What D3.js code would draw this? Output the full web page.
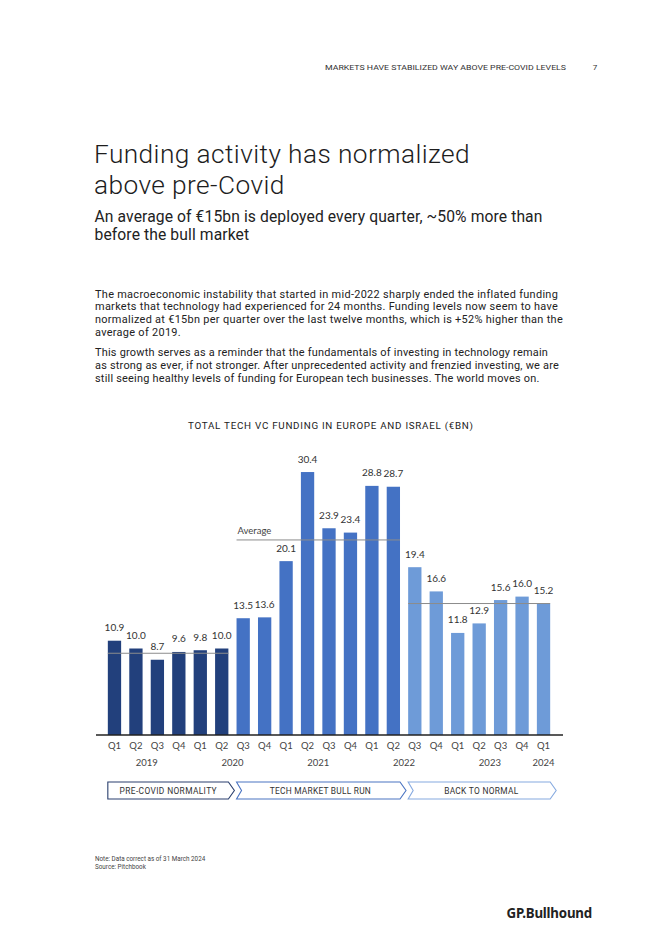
<!DOCTYPE html>
<html>
<head>
<meta charset="utf-8">
<script src="https://cdn.jsdelivr.net/npm/d3@7"></script>
<style>
  html, body { margin: 0; padding: 0; background: #fff; }
  svg { display: block; }
</style>
</head>
<body>
<svg id="page" width="662" height="936"></svg>
<script>
// ---------- DATA ----------
const quarters = ["Q1","Q2","Q3","Q4","Q1","Q2","Q3","Q4","Q1","Q2","Q3","Q4","Q1","Q2","Q3","Q4","Q1","Q2","Q3","Q4","Q1"];
const years    = [2019,2019,2019,2019,2020,2020,2020,2020,2021,2021,2021,2021,2022,2022,2022,2022,2023,2023,2023,2023,2024];
const funding  = [10.9,10.0,8.7,9.6,9.8,10.0,13.5,13.6,20.1,30.4,23.9,23.4,28.8,28.7,19.4,16.6,11.8,12.9,15.6,16.0,15.2];
const phaseOfBar = [0,0,0,0,0,0,1,1,1,1,1,1,1,1,2,2,2,2,2,2,2];
const phaseNames = ["PRE-COVID NORMALITY","TECH MARKET BULL RUN","BACK TO NORMAL"];
const phaseAverages = [9.45, 22.55, 15.2];
const yearLabels = ["2019","2020","2021","2022","2023","2024"];
const phaseColors = ["#22407c","#4472c4","#6e9bd8"];
const phaseStroke = ["#2a3f6e","#4a74c2","#86aae0"];

const headerText = "MARKETS HAVE STABILIZED WAY ABOVE PRE-COVID LEVELS";
const pageNumber = "7";
const titleLines = ["Funding activity has normalized","above pre-Covid"];
const subtitleLines = ["An average of €15bn is deployed every quarter, ~50% more than","before the bull market"];
const para1 = ["The macroeconomic instability that started in mid-2022 sharply ended the inflated funding",
  "markets that technology had experienced for 24 months. Funding levels now seem to have",
  "normalized at €15bn per quarter over the last twelve months, which is +52% higher than the",
  "average of 2019."];
const para2 = ["This growth serves as a reminder that the fundamentals of investing in technology remain",
  "as strong as ever, if not stronger. After unprecedented activity and frenzied investing, we are",
  "still seeing healthy levels of funding for European tech businesses. The world moves on."];
const chartTitle = "TOTAL TECH VC FUNDING IN EUROPE AND ISRAEL (€BN)";
const notes = ["Note: Data correct as of 31 March 2024","Source: Pitchbook"];

(function () {
// ---------- PAGE ----------
const svg = d3.select("#page");
const pageFont = "Roboto, 'Noto Sans', sans-serif";
const chartFont = "Lato, 'Open Sans', sans-serif";

svg.append("text").attr("x", 566).attr("y", 69.5).attr("text-anchor","end")
  .attr("font-family", pageFont).attr("font-size", 7.6).attr("fill","#333")
  .attr("textLength", 241).attr("lengthAdjust","spacingAndGlyphs").text(headerText);
svg.append("text").attr("x", 595).attr("y", 69.5).attr("text-anchor","middle")
  .attr("font-family", pageFont).attr("font-size", 8).attr("fill","#333").text(pageNumber);

// text block fitted so that a reference line reaches a measured width,
// with font size capped so line boxes do not overlap.
function block(lines, x0, y0, lh, refLine, targetW, weight, color) {
  const t = svg.append("text").attr("font-family", pageFont).attr("font-size", 10)
    .attr("font-weight", weight).attr("fill", color);
  const spans = lines.map((l,i) => t.append("tspan").attr("x", x0).attr("y", y0 + i*lh).text(l));
  const w10 = spans[refLine].node().getComputedTextLength();
  let fs = 10 * targetW / w10;
  const cap = lh / 1.18;
  if (fs > cap) fs = cap;
  t.attr("font-size", fs);
  const w = spans[refLine].node().getComputedTextLength();
  const n = lines[refLine].length;
  if (w < targetW - 0.5) t.attr("letter-spacing", (targetW - w) / n);
}
block(titleLines, 94, 163, 31, 0, 376, 300, "#1d1d1d");
block(subtitleLines, 94.5, 221.5, 18.5, 0, 448, 400, "#222");
block(para1, 95, 297.5, 12.9, 2, 468, 400, "#222");
block(para2, 95, 356, 12.9, 1, 464, 400, "#222");

svg.append("text").attr("x", 188).attr("y", 428.5)
  .attr("font-family", pageFont).attr("font-size", 9.8).attr("fill","#222")
  .attr("textLength", 285).attr("lengthAdjust","spacing").text(chartTitle);

// ---------- CHART ----------
const keys = quarters.map((q,i) => years[i] + "-" + q);
const x = d3.scaleBand().domain(keys).range([97.1, 560.9]).paddingInner(0.38).paddingOuter(0.5);
const y = d3.scaleLinear().domain([0, 35]).range([735, 432.25]);
const bw = x.bandwidth();

const g = svg.append("g");
g.selectAll("rect.bar").data(funding).join("rect").attr("class","bar")
  .attr("x", (d,i) => x(keys[i])).attr("width", bw)
  .attr("y", d => y(d)).attr("height", d => y(0) - y(d))
  .attr("fill", (d,i) => phaseColors[phaseOfBar[i]]);

g.selectAll("text.val").data(funding).join("text").attr("class","val")
  .attr("x", (d,i) => x(keys[i]) + bw/2).attr("y", d => y(d) - 9.5)
  .attr("text-anchor","middle").attr("font-family", chartFont).attr("font-size", 10)
  .attr("fill","#333").text(d => d.toFixed(1));

// average lines per phase
phaseNames.forEach((p, pi) => {
  const idx = phaseOfBar.map((v,i) => v === pi ? i : -1).filter(i => i >= 0);
  const x0 = x(keys[idx[0]]), x1 = x(keys[idx[idx.length-1]]) + bw;
  g.append("line").attr("x1", x0).attr("x2", x1)
    .attr("y1", y(phaseAverages[pi])).attr("y2", y(phaseAverages[pi]))
    .attr("stroke", "#8c8c8c").attr("stroke-width", 1);
  if (pi === 1) {
    g.append("text").attr("x", x0 + 1).attr("y", y(phaseAverages[pi]) - 6)
      .attr("font-family", chartFont).attr("font-size", 9.5).attr("fill","#444").text("Average");
  }
});

// x axis
const axis = d3.axisBottom(x).tickSize(0).tickPadding(7).tickFormat(k => k.split("-")[1]);
const ax = g.append("g").attr("transform", `translate(0,${y(0)})`).call(axis);
ax.select(".domain").remove();
ax.selectAll("text").attr("font-family", chartFont).attr("font-size", 9.5).attr("fill","#444");
g.append("line").attr("x1", 96).attr("x2", 563).attr("y1", y(0)).attr("y2", y(0))
  .attr("stroke","#222").attr("stroke-width", 1.3);

// year labels: centred between Q2 and Q3, or under single bar
yearLabels.forEach(yr => {
  const idx = years.map((v,i) => String(v) === yr ? i : -1).filter(i => i >= 0);
  const a = x(keys[idx[0]]) + bw/2, b = x(keys[idx[idx.length-1]]) + bw/2;
  g.append("text").attr("x", (a+b)/2).attr("y", 765.5).attr("text-anchor","middle")
    .attr("font-family", chartFont).attr("font-size", 9.5).attr("fill","#444").text(yr);
});

// phase chevrons
const boxTop = 782, boxBot = 799, boxMid = (boxTop+boxBot)/2, tip = 6, notch = 5;
const phaseTextW = [97, 101, 74];
phaseNames.forEach((p, pi) => {
  const idx = phaseOfBar.map((v,i) => v === pi ? i : -1).filter(i => i >= 0);
  const L = x(keys[idx[0]]), R = x(keys[idx[idx.length-1]]) + bw;
  const pts = [[L, boxTop],[R, boxTop],[R+tip, boxMid],[R, boxBot],[L, boxBot]];
  if (pi > 0) pts.push([L+notch, boxMid]);
  g.append("path").attr("d", d3.line()(pts) + "Z").attr("fill","#fff")
    .attr("stroke", phaseStroke[pi]).attr("stroke-width", 1.1);
  const cx = (L+R)/2 + (pi>0?2:0);
  g.append("text").attr("x", cx - phaseTextW[pi]/2).attr("y", boxMid + 3)
    .attr("font-family", pageFont).attr("font-size", 8.4)
    .attr("textLength", phaseTextW[pi]).attr("lengthAdjust","spacing")
    .attr("fill","#333").text(p);
});

// notes
notes.forEach((n,i) => svg.append("text").attr("x", 95).attr("y", 861 + i*7.5)
  .attr("font-family", pageFont).attr("font-size", 6.3).attr("fill","#444").text(n));

// logo
svg.append("text").attr("x", 592).attr("y", 917.5).attr("text-anchor","end")
  .attr("font-family", "'Noto Sans', 'Open Sans', sans-serif").attr("font-weight", 700)
  .attr("font-size", 13.3).attr("fill","#222").attr("letter-spacing", -0.2).text("GP.Bullhound");
})();
</script>
</body>
</html>
